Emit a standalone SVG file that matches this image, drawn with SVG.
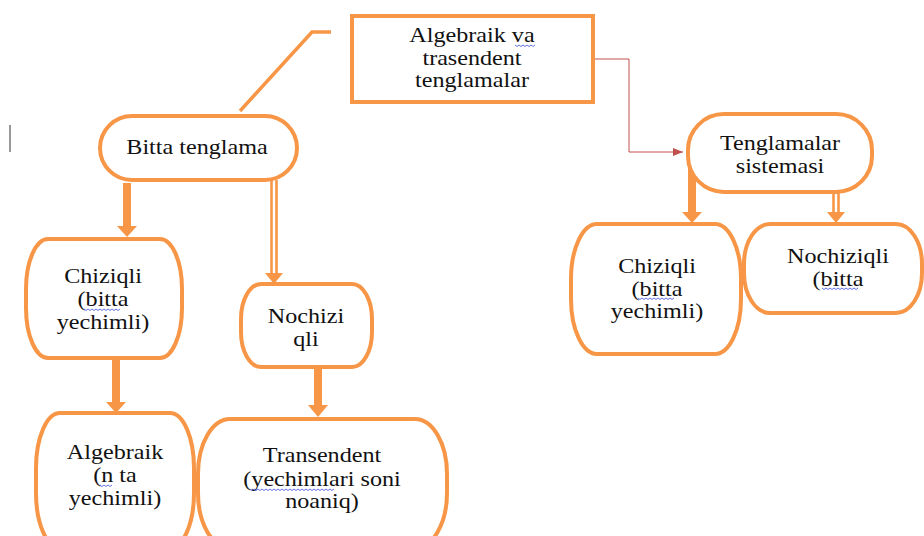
<svg xmlns="http://www.w3.org/2000/svg" width="924" height="536" viewBox="0 0 924 536">
<style>
.node{fill:#fff;stroke:#F79646;stroke-width:4}
.t{font-family:"Liberation Serif","Times New Roman",serif;font-size:21px;fill:#111;text-anchor:middle}
.sq{fill:none;stroke:#3b4fd8;stroke-width:0.8}
.shaft{stroke:#F79646;stroke-width:8;fill:none}
.dbl{stroke:#F79646;stroke-width:2.6;fill:none}
.head{fill:#F79646}
</style>
<defs>
<marker id="redhead" markerWidth="10" markerHeight="8" refX="10" refY="4" orient="auto" markerUnits="userSpaceOnUse">
<path d="M0,0 L10,4 L0,8 Z" fill="#C0504D"/>
</marker>
</defs>
<rect width="924" height="536" fill="#fff"/>
<line x1="10" y1="125" x2="10" y2="152" stroke="#555" stroke-width="1.2"/>

<g id="connectors">
<polyline points="331,32 312,32 240,111" fill="none" stroke="#F79646" stroke-width="3.5"/>
<polyline points="594,59 629,59 629,152 683,152" fill="none" stroke="#C0504D" stroke-width="1" marker-end="url(#redhead)"/>
<!-- Bitta -> Chiziqli -->
<line class="shaft" x1="127" y1="183" x2="127" y2="227"/>
<path class="head" d="M117,226 L137,226 L127,237 Z"/>
<!-- Bitta -> Nochizi -->
<line class="dbl" x1="271.5" y1="180" x2="271.5" y2="274"/>
<line class="dbl" x1="276.5" y1="180" x2="276.5" y2="274"/>
<path class="head" d="M265,273 L283,273 L274,284 Z"/>
<!-- Chiziqli -> Algebraik -->
<line class="shaft" x1="116" y1="359" x2="116" y2="403"/>
<path class="head" d="M106,402 L126,402 L116,413 Z"/>
<!-- Nochizi -> Transendent -->
<line class="shaft" x1="318" y1="368" x2="318" y2="406"/>
<path class="head" d="M308,405 L328,405 L318,417 Z"/>
<!-- Tenglamalar -> Chiziqli -->
<line class="shaft" x1="692" y1="168" x2="692" y2="213"/>
<path class="head" d="M682,212 L702,212 L692,223 Z"/>
<!-- Tenglamalar -> Nochiziqli -->
<line class="dbl" x1="833.5" y1="192" x2="833.5" y2="213"/>
<line class="dbl" x1="838.5" y1="192" x2="838.5" y2="213"/>
<path class="head" d="M827,212 L845,212 L836,223 Z"/>
</g>

<g id="n-top">
<rect class="node" x="352" y="16" width="241" height="86"/>
<g transform="translate(472 0) scale(1.15 1)">
<text class="t" x="0" y="42">Algebraik va</text>
<text class="t" x="0" y="65">trasendent</text>
<text class="t" x="0" y="87">tenglamalar</text>
</g>
<path class="sq" d="M515,45 l2,1.5 l2,-1.5 l2,1.5 l2,-1.5 l2,1.5 l2,-1.5 l2,1.5 l2,-1.5 l2,1.5 l2,-1.5"/>
</g>

<g id="n-bitta">
<rect class="node" x="100" y="116" width="197" height="64" rx="32" ry="32"/>
<g transform="translate(197 0) scale(1.15 1)">
<text class="t" x="0" y="154">Bitta tenglama</text>
</g>
</g>

<g id="n-chiziqli-l">
<rect class="node" x="26" y="239" width="156" height="119" rx="22" ry="50"/>
<g transform="translate(103 0) scale(1.15 1)">
<text class="t" x="0" y="283">Chiziqli</text>
<text class="t" x="0" y="306">(bitta</text>
<text class="t" x="0" y="329">yechimli)</text>
</g>
<path class="sq" d="M84,309 l2,1.5 l2,-1.5 l2,1.5 l2,-1.5 l2,1.5 l2,-1.5 l2,1.5 l2,-1.5 l2,1.5 l2,-1.5 l2,1.5 l2,-1.5 l2,1.5 l2,-1.5 l2,1.5 l2,-1.5 l2,1.5 l2,-1.5"/>
</g>

<g id="n-nochizi">
<rect class="node" x="241" y="284" width="131" height="83" rx="20" ry="35"/>
<g transform="translate(306 0) scale(1.15 1)">
<text class="t" x="0" y="323">Nochizi</text>
<text class="t" x="0" y="346">qli</text>
</g>
</g>

<g id="n-algebraik">
<rect class="node" x="36" y="413" width="158" height="135" rx="24" ry="55"/>
<g transform="translate(115 0) scale(1.15 1)">
<text class="t" x="0" y="459">Algebraik</text>
<text class="t" x="0" y="482">(n ta</text>
<text class="t" x="0" y="505">yechimli)</text>
</g>
<path class="sq" d="M100,485 l2,1.5 l2,-1.5 l2,1.5 l2,-1.5 l2,1.5 l2,-1.5"/>
</g>

<g id="n-transendent">
<rect class="node" x="198" y="419" width="249" height="129" rx="32" ry="55"/>
<g transform="translate(322 0) scale(1.15 1)">
<text class="t" x="0" y="462">Transendent</text>
<text class="t" x="0" y="486">(yechimlari soni</text>
<text class="t" x="0" y="508">noaniq)</text>
</g>
<path class="sq" d="M250,489 l2,1.5 l2,-1.5 l2,1.5 l2,-1.5 l2,1.5 l2,-1.5 l2,1.5 l2,-1.5 l2,1.5 l2,-1.5 l2,1.5 l2,-1.5 l2,1.5 l2,-1.5 l2,1.5 l2,-1.5 l2,1.5 l2,-1.5 l2,1.5 l2,-1.5 l2,1.5 l2,-1.5 l2,1.5 l2,-1.5 l2,1.5 l2,-1.5 l2,1.5 l2,-1.5 l2,1.5 l2,-1.5 l2,1.5 l2,-1.5 l2,1.5 l2,-1.5 l2,1.5 l2,-1.5 l2,1.5 l2,-1.5 l2,1.5 l2,-1.5 l2,1.5 l2,-1.5"/>
</g>

<g id="n-tenglamalar">
<rect class="node" x="688" y="114" width="184" height="78" rx="36" ry="36"/>
<g transform="translate(780 0) scale(1.15 1)">
<text class="t" x="0" y="150">Tenglamalar</text>
<text class="t" x="0" y="173">sistemasi</text>
</g>
</g>

<g id="n-chiziqli-r">
<rect class="node" x="571" y="224" width="170" height="130" rx="26" ry="55"/>
<g transform="translate(657 0) scale(1.15 1)">
<text class="t" x="0" y="273">Chiziqli</text>
<text class="t" x="0" y="296">(bitta</text>
<text class="t" x="0" y="318">yechimli)</text>
</g>
<path class="sq" d="M638,298 l2,1.5 l2,-1.5 l2,1.5 l2,-1.5 l2,1.5 l2,-1.5 l2,1.5 l2,-1.5 l2,1.5 l2,-1.5 l2,1.5 l2,-1.5 l2,1.5 l2,-1.5 l2,1.5 l2,-1.5 l2,1.5 l2,-1.5"/>
</g>

<g id="n-nochiziqli-r">
<rect class="node" x="744" y="224" width="178" height="89" rx="26" ry="40"/>
<g transform="translate(838 0) scale(1.15 1)">
<text class="t" x="0" y="263">Nochiziqli</text>
<text class="t" x="0" y="286">(bitta</text>
</g>
<path class="sq" d="M822,288 l2,1.5 l2,-1.5 l2,1.5 l2,-1.5 l2,1.5 l2,-1.5 l2,1.5 l2,-1.5 l2,1.5 l2,-1.5 l2,1.5 l2,-1.5 l2,1.5 l2,-1.5 l2,1.5 l2,-1.5 l2,1.5 l2,-1.5"/>
</g>
</svg>
